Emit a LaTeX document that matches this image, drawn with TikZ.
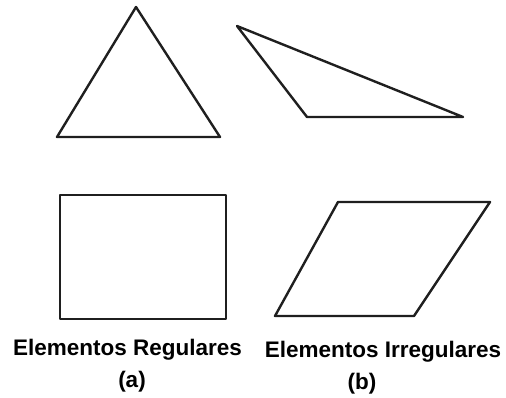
\documentclass[tikz,border=0pt]{standalone}
\usepackage{fontspec}
\setmainfont{Liberation Sans}
\usepackage{tikz}
\usetikzlibrary{positioning,calc}

\begin{document}
\begin{tikzpicture}[x=1pt,y=-1pt,line join=round,line cap=round]
      \useasboundingbox (0,0) rectangle (506,398);
      % (a) equilateral triangle
      \coordinate (A1) at (57,137);
      \coordinate (A2) at (220,137);
      \coordinate (A3) at (136,7);
      \draw[line width=2.4pt,black!88] (A1)--(A2)--(A3)--cycle;
      % (b) obtuse triangle
      \coordinate (B1) at (237,26);
      \coordinate (B2) at (307,117);
      \coordinate (B3) at (463,117);
      \draw[line width=2.4pt,black!88] (B1)--(B2)--(B3)--cycle;
      % (a) rectangle
      \coordinate (C1) at (60,195);
      \coordinate (C2) at (226,319);
      \draw[line width=2.4pt,black!88] (C1) rectangle (C2);
      % (b) parallelogram
      \coordinate (D1) at (275,316);
      \coordinate (D2) at (414,316);
      \coordinate (D3) at (490,202);
      \coordinate (D4) at (338,202);
      \draw[line width=2.4pt,black!88] (D1)--(D2)--(D3)--(D4)--cycle;
      % captions
      \node[anchor=base,font=\fontsize{22.5}{26}\selectfont\bfseries] (capA) at (127.5,355) {Elementos Regulares};
      \node[anchor=base,font=\fontsize{22.5}{26}\selectfont\bfseries] (capB) at (383,357) {Elementos Irregulares};
      \node[anchor=base,font=\fontsize{22.5}{26}\selectfont\bfseries] (labA) at (132,387) {(a)};
      \node[anchor=base,font=\fontsize{22.5}{26}\selectfont\bfseries] (labB) at (362,389) {(b)};
    \end{tikzpicture}
\end{document}
